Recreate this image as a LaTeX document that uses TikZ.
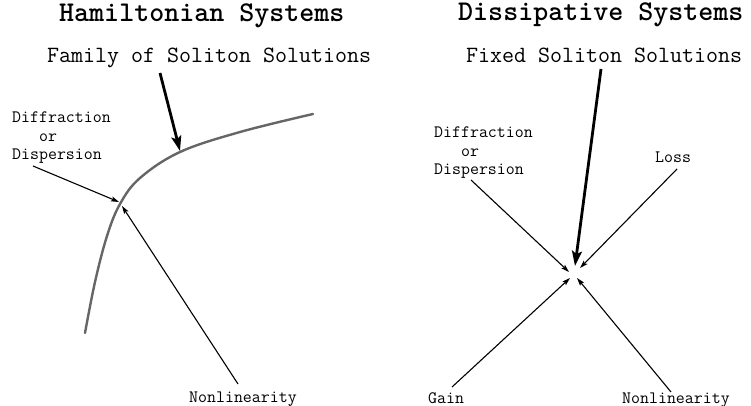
\documentclass[tikz,border=0pt]{standalone}
\usepackage{fontspec}
\usetikzlibrary{arrows.meta}
\begin{document}
\begin{tikzpicture}[x=1pt,y=-1pt,
  title/.style={anchor=base west,inner sep=0,font=\fontsize{28.6}{34}\selectfont\ttfamily\bfseries},
  subtitle/.style={anchor=base west,inner sep=0,font=\fontsize{23.3}{28}\selectfont\ttfamily},
  lbl/.style={anchor=base west,inner sep=0,align=left,font=\fontsize{17.4}{18.5}\selectfont\ttfamily},
  thin/.style={line width=1.1pt,-{Stealth[length=8pt,width=5pt,inset=1.5pt]}},
  thick/.style={line width=2.8pt,-{Stealth[length=15pt,width=10pt,inset=3pt]}},
  solcurve/.style={line width=2.4pt,draw=black!60,line cap=round}]
\useasboundingbox (0,0) rectangle (751,406);

% ---- Hamiltonian side ----
\node[title] (hT) at (59,22) {Hamiltonian Systems};
\node[subtitle] (hS) at (47,63) {Family of Soliton Solutions};
% multi-line labels: the base anchor sits on the last line
\node[lbl] (hD) at (12,160) {Diffraction\\\hphantom{Dif}or\\Dispersion};
\node[lbl] (hN) at (189,402) {Nonlinearity};

% family of solutions
\draw[solcurve] plot[smooth,tension=0.6] coordinates
  {(85,333) (95,282) (107,236) (120,204) (140,178) (180,152) (240,132) (313,114)};

\coordinate (hTip) at (180,151);
\coordinate (hDTip) at (119,202);
\coordinate (hNTip) at (122,206);
\coordinate (hDst) at (33,166);
\coordinate (hNst) at (238,384);
\coordinate (hSst) at (160,73);

\draw[thick] (hSst) -- (hTip);
\draw[thin] (hDst) -- (hDTip);
\draw[thin] (hNst) -- (hNTip);

% ---- Dissipative side ----
\node[title] (dT) at (458,21) {Dissipative Systems};
\node[subtitle] (dS) at (466,63) {Fixed Soliton Solutions};
\node[lbl] (dD) at (434,175) {Diffraction\\\hphantom{Dif}or\\Dispersion};
\node[lbl] (dL) at (655,163) {Loss};
\node[lbl] (dG) at (428,403) {Gain};
\node[lbl] (dN) at (622,403) {Nonlinearity};

\coordinate (dSst) at (601,69);
\coordinate (dSTip) at (575,266);
\coordinate (dDst) at (471,180);
\coordinate (dDTip) at (569,272);
\coordinate (dLst) at (677,169);
\coordinate (dLTip) at (580,268);
\coordinate (dGst) at (452,387);
\coordinate (dGTip) at (570,278);
\coordinate (dNst) at (671,392);
\coordinate (dNTip) at (577,278);

\draw[thick] (dSst) -- (dSTip);
\draw[thin] (dDst) -- (dDTip);
\draw[thin] (dLst) -- (dLTip);
\draw[thin] (dGst) -- (dGTip);
\draw[thin] (dNst) -- (dNTip);
\end{tikzpicture}
\end{document}
